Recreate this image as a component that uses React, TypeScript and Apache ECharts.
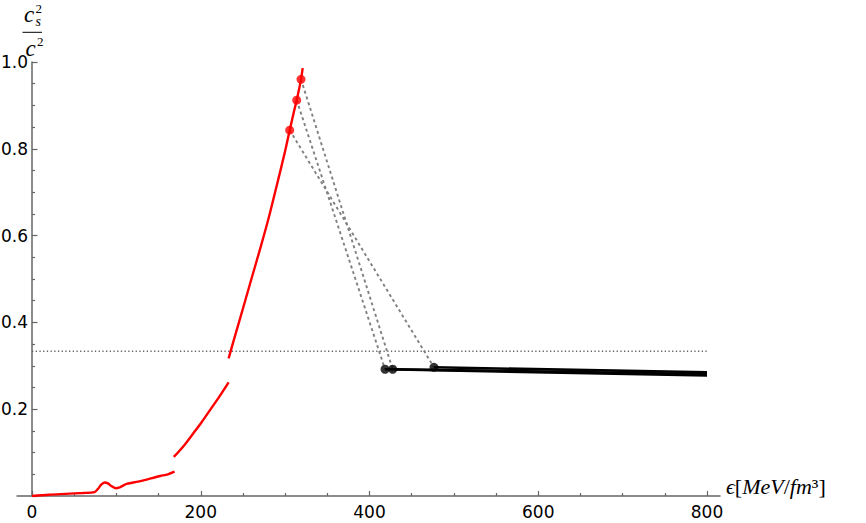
import React, { useEffect, useRef } from "react";
import * as echarts from "echarts";

// Red branch (hadronic side), three pieces separated by gaps
const lowBranch: [number, number][] = [
  [0, 0.0], [20, 0.003], [40, 0.005], [60, 0.007], [74, 0.009], [78, 0.016],
  [82, 0.026], [86, 0.031], [90, 0.029], [94, 0.023], [99, 0.018], [104, 0.02],
  [108, 0.024], [112, 0.028], [120, 0.031], [132, 0.036], [142, 0.041],
  [152, 0.046], [161, 0.05], [169, 0.056],
];
const midBranch: [number, number][] = [
  [168, 0.09], [180, 0.116], [191, 0.144], [201, 0.17], [211, 0.198],
  [222, 0.229], [233, 0.262],
];
const highBranch: [number, number][] = [
  [233, 0.317], [240, 0.365], [250, 0.432], [260, 0.5], [270, 0.567],
  [280, 0.637], [290, 0.715], [300, 0.795], [305.4, 0.843], [310, 0.882],
  [313.7, 0.912], [318.8, 0.96], [320.8, 0.986],
];

// Transition points
const redDots: [number, number][] = [[305.4, 0.843], [313.7, 0.912], [318.8, 0.96]];
const blackDots: [number, number][] = [[418.4, 0.292], [427.5, 0.292], [476.4, 0.2965]];
const blackEndX = 800;
const blackEndY: number[] = [0.278, 0.281, 0.285];
// red dot index -> black dot index
const links: [number, number][] = [[0, 2], [1, 0], [2, 1]];

const conformalLimit = 1 / 3;
const xRange: [number, number] = [-17.8, 815.4];
const xMajorTicks = [0, 200, 400, 600, 800];
const xMinorTicks = [50, 100, 150, 250, 300, 350, 450, 500, 550, 650, 700, 750];

const AXIS_GRAY = "#666666";
const TICK_FONT = "DejaVu Sans";
const MATH_FONT = "Liberation Serif";

export default function App() {
  const ref = useRef<HTMLDivElement>(null);

  useEffect(() => {
    document.body.style.margin = "0";
    if (!ref.current) return;
    const chart = echarts.init(ref.current, undefined, { renderer: "svg" });

    const series: any[] = [];

    series.push({
      type: "line",
      data: [[0, conformalLimit], [800, conformalLimit]],
      symbol: "none",
      silent: true,
      lineStyle: { color: "#666666", width: 1.5, type: [1.3, 2.4] },
      z: 1,
    });

    links.forEach(([r, b]) => {
      series.push({
        type: "line",
        data: [redDots[r], blackDots[b]],
        symbol: "none",
        silent: true,
        lineStyle: { color: "#808080", width: 1.9, type: [3, 3] },
        z: 2,
      });
    });

    blackDots.forEach((p, i) => {
      series.push({
        type: "line",
        data: [p, [blackEndX, blackEndY[i]]],
        symbol: "none",
        silent: true,
        lineStyle: { color: "#000000", width: 2.6 },
        z: 3,
      });
    });

    [lowBranch, midBranch, highBranch].forEach((d) => {
      series.push({
        type: "line",
        data: d,
        symbol: "none",
        smooth: 0.3,
        silent: true,
        lineStyle: { color: "#ff0000", width: 2.4 },
        z: 4,
      });
    });

    series.push({
      type: "scatter",
      data: redDots,
      symbolSize: 9,
      silent: true,
      itemStyle: { color: "#ff0000" },
      z: 5,
    });
    series.push({
      type: "scatter",
      data: blackDots,
      symbolSize: 9,
      silent: true,
      itemStyle: { color: "#000000" },
      z: 5,
    });

    const axisLineStyle = { color: AXIS_GRAY, width: 1.5 };
    const tickLineStyle = { color: AXIS_GRAY, width: 1.2 };
    const labelStyle = { color: "#000000", fontSize: 17, fontFamily: TICK_FONT };

    chart.setOption({
      animation: false,
      grid: { left: 17, right: 146, top: 62, bottom: 27, outerBoundsMode: "none" },
      xAxis: [
        {
          type: "value",
          min: xRange[0],
          max: xRange[1],
          position: "bottom",
          axisLine: { show: true, onZero: true, lineStyle: axisLineStyle },
          axisTick: { show: true, inside: true, length: 5, customValues: xMajorTicks, lineStyle: tickLineStyle },
          axisLabel: { show: true, customValues: xMajorTicks, margin: 7, ...labelStyle },
          splitLine: { show: false },
          minorTick: { show: false },
        },
        {
          type: "value",
          min: xRange[0],
          max: xRange[1],
          position: "bottom",
          axisLine: { show: false },
          axisTick: { show: true, inside: true, length: 3, customValues: xMinorTicks, lineStyle: tickLineStyle },
          axisLabel: { show: false },
          splitLine: { show: false },
        },
      ],
      yAxis: {
        type: "value",
        min: 0,
        max: 1,
        interval: 0.2,
        axisLine: { show: true, onZero: true, lineStyle: axisLineStyle },
        axisTick: { show: true, inside: true, length: 5.5, lineStyle: tickLineStyle },
        minorTick: { show: true, splitNumber: 4, length: 3, lineStyle: tickLineStyle },
        splitLine: { show: false },
        axisLabel: {
          margin: -11,
          ...labelStyle,
          formatter: (v: number) => (v === 0 ? "" : v.toFixed(1)),
        },
      },
      graphic: [
        // y-axis title: c_s^2 / c^2
        { type: "text", x: 24, y: 14.5, style: { text: "c", font: `italic 23px "${MATH_FONT}"`, fill: "#000", verticalAlign: "middle" } },
        { type: "text", x: 35.5, y: 8, style: { text: "2", font: `13px "${MATH_FONT}"`, fill: "#000", verticalAlign: "middle" } },
        { type: "text", x: 35.5, y: 21.5, style: { text: "s", font: `italic 14px "${MATH_FONT}"`, fill: "#000", verticalAlign: "middle" } },
        { type: "line", shape: { x1: 22.5, y1: 32.3, x2: 42, y2: 32.3 }, style: { stroke: "#000", lineWidth: 1 } },
        { type: "text", x: 25.5, y: 48.5, style: { text: "c", font: `italic 23px "${MATH_FONT}"`, fill: "#000", verticalAlign: "middle" } },
        { type: "text", x: 37, y: 41, style: { text: "2", font: `13px "${MATH_FONT}"`, fill: "#000", verticalAlign: "middle" } },
        // x-axis title
        {
          type: "text",
          x: 726,
          y: 486,
          style: {
            text: "{i|ϵ}{r|[}{i|MeV}{r|/}{i|fm}{r|³]}",
            verticalAlign: "middle",
            rich: {
              i: { fontFamily: MATH_FONT, fontStyle: "italic", fontSize: 22, fill: "#000" },
              r: { fontFamily: MATH_FONT, fontSize: 22, fill: "#000" },
            },
          },
        },
      ],
      series,
    });

    return () => chart.dispose();
  }, []);

  return <div ref={ref} style={{ width: 866, height: 523 }} />;
}
